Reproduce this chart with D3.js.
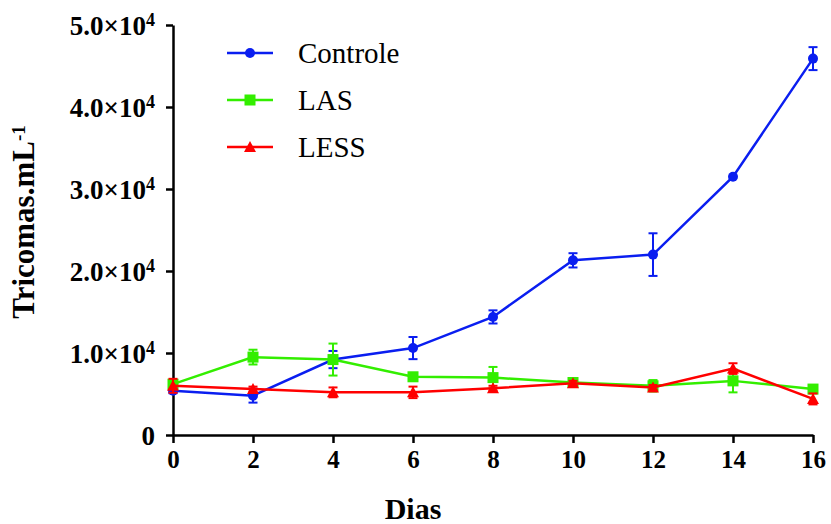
<!DOCTYPE html>
<html>
<head>
<meta charset="utf-8">
<script src="https://cdn.jsdelivr.net/npm/d3@7"></script>
<style>
  body { margin: 0; background: #fff; }
</style>
</head>
<body>
<div id="chart"></div>
<script>
// dias e contagens (tricomas/mL)
var dias = [0, 2, 4, 6, 8, 10, 12, 14, 16]

var controle     = [5400, 4800, 9200, 10600, 14400, 21300, 22000, 31500, 45900]
var controle_err = [300, 850, 1050, 1350, 800, 870, 2600, 0, 1400]

var las     = [6200, 9500, 9200, 7100, 7000, 6400, 6000, 6600, 5600]
var las_err = [300, 900, 1950, 300, 1300, 300, 700, 1400, 200]

var less     = [6000, 5600, 5200, 5200, 5700, 6300, 5800, 8100, 4400]
var less_err = [850, 300, 600, 700, 300, 300, 300, 650, 670]

var y_ticks = [0, 10000, 20000, 30000, 40000, 50000]
var x_ticks = [0, 2, 4, 6, 8, 10, 12, 14, 16]

var series = [
    { nome: "Controle", valores: controle, erros: controle_err, cor: "#0a1ef0", marca: "circle" },
    { nome: "LAS", valores: las, erros: las_err, cor: "#33ee00", marca: "square" },
    { nome: "LESS", valores: less, erros: less_err, cor: "#ff0000", marca: "triangle" }
]

var fonte = 'Tinos, "Nimbus Roman", FreeSerif, "Liberation Serif", "Times New Roman", "DejaVu Serif", serif'

var svg = d3.select("#chart")
    .append("svg")
    .attr("width", 831)
    .attr("height", 524)

var x = d3.scaleLinear()
    .domain([0, 16])
    .range([173, 813])

var y = d3.scaleLinear()
    .domain([0, 50000])
    .range([435, 25])

// eixo x
var gx = svg.append("g")
    .attr("transform", "translate(0,435)")
    .call(d3.axisBottom(x).tickValues(x_ticks).tickSize(8).tickSizeOuter(0).tickPadding(7))

gx.attr("font-family", null)
gx.selectAll("text")
    .style("font-family", fonte)
    .style("font-size", "25px")
    .style("font-weight", "bold")
    .attr("fill", "#000")

// eixo y
var gy = svg.append("g")
    .attr("transform", "translate(173,0)")
    .call(d3.axisLeft(y).tickValues(y_ticks).tickSize(7).tickSizeOuter(0).tickPadding(11))

gy.attr("font-family", null)
gy.selectAll("text")
    .style("font-family", fonte)
    .style("font-size", "27px")
    .style("font-weight", "bold")
    .attr("fill", "#000")
    .attr("dy", "0.36em")
    .each(function(d) {
        var t = d3.select(this).text(null)
        if (d === 0) {
            t.text("0")
            return
        }
        t.append("tspan").text((d / 10000).toFixed(1) + "×10")
        t.append("tspan").attr("dy", "-0.5em").style("font-size", "18px").text("4")
    })

svg.selectAll(".domain, .tick line")
    .attr("stroke", "#000")
    .attr("stroke-width", 2.5)

// titulos dos eixos
svg.append("text")
    .attr("x", 413)
    .attr("y", 519)
    .attr("text-anchor", "middle")
    .style("font-family", fonte)
    .style("font-size", "30px")
    .style("font-weight", "bold")
    .text("Dias")

var ty = svg.append("text")
    .attr("transform", "translate(34,222) rotate(-90)")
    .attr("text-anchor", "middle")
    .style("font-family", fonte)
    .style("font-size", "31px")
    .style("font-weight", "bold")
ty.append("tspan").text("Tricomas.mL")
ty.append("tspan").attr("dy", "-0.5em").style("font-size", "19px").text("-1")

function marca(g, tipo, cor) {
    if (tipo === "circle") {
        g.append("circle").attr("r", 5).attr("fill", cor)
    } else if (tipo === "square") {
        g.append("rect").attr("x", -5.5).attr("y", -5.5).attr("width", 11).attr("height", 11).attr("fill", cor)
    } else {
        g.append("path").attr("d", "M0,-6L6,5L-6,5Z").attr("fill", cor)
    }
}

var linha = d3.line()
    .x((d, i) => x(dias[i]))
    .y(d => y(d))

series.forEach(s => {
    var g = svg.append("g")

    // barras de erro
    s.valores.forEach((v, i) => {
        if (!s.erros[i]) return
        var cx = x(dias[i])
        var y1 = y(v + s.erros[i])
        var y2 = y(v - s.erros[i])
        g.append("line").attr("x1", cx).attr("x2", cx).attr("y1", y1).attr("y2", y2)
            .attr("stroke", s.cor).attr("stroke-width", 2)
        g.append("line").attr("x1", cx - 4.5).attr("x2", cx + 4.5).attr("y1", y1).attr("y2", y1)
            .attr("stroke", s.cor).attr("stroke-width", 2)
        g.append("line").attr("x1", cx - 4.5).attr("x2", cx + 4.5).attr("y1", y2).attr("y2", y2)
            .attr("stroke", s.cor).attr("stroke-width", 2)
    })

    g.append("path")
        .datum(s.valores)
        .attr("d", linha)
        .attr("fill", "none")
        .attr("stroke", s.cor)
        .attr("stroke-width", 2.5)

    s.valores.forEach((v, i) => {
        marca(g.append("g").attr("transform", "translate(" + x(dias[i]) + "," + y(v) + ")"), s.marca, s.cor)
    })
})

// legenda
var leg = svg.append("g")
series.forEach((s, i) => {
    var ly = 53 + i * 47
    leg.append("line")
        .attr("x1", 227).attr("x2", 273).attr("y1", ly).attr("y2", ly)
        .attr("stroke", s.cor).attr("stroke-width", 2.5)
    marca(leg.append("g").attr("transform", "translate(250," + ly + ")"), s.marca, s.cor)
    leg.append("text")
        .attr("x", 298)
        .attr("y", ly)
        .attr("dy", "0.34em")
        .style("font-family", fonte)
        .style("font-size", "29px")
        .text(s.nome)
})
</script>
</body>
</html>
